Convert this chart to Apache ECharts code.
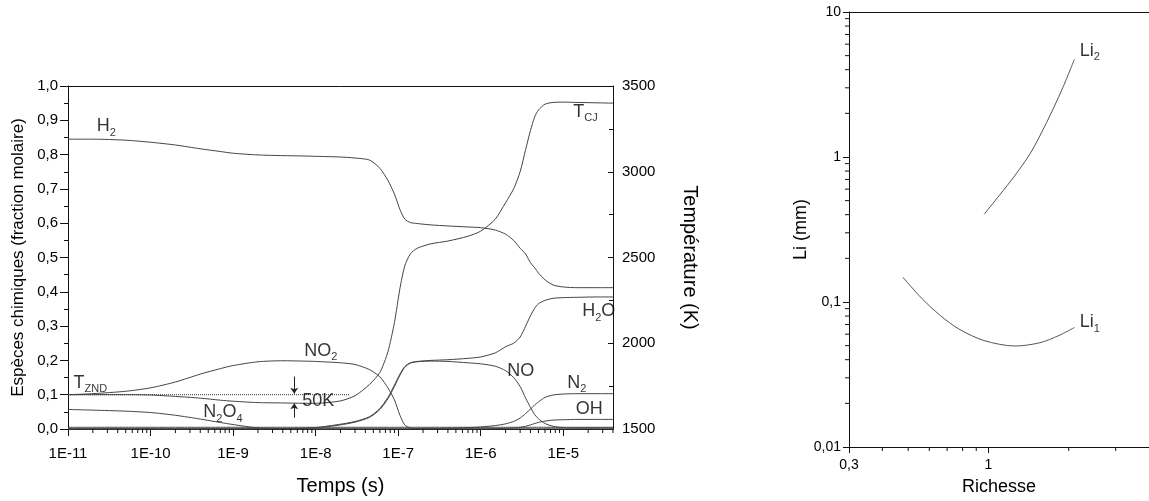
<!DOCTYPE html>
<html><head><meta charset="utf-8">
<script src="https://cdn.jsdelivr.net/npm/echarts@6/dist/echarts.min.js"></script>
<style>html,body{margin:0;padding:0;background:#fff}#c{width:1149px;height:501px}</style>
</head><body><div id="c"></div>
<script>
// ---------- Left chart data (time in seconds, species as molar fraction, temperature in K)
const timeS = [1e-11, 2e-11, 5e-11, 1e-10, 2e-10, 4e-10, 7e-10, 1e-9, 2e-9, 4e-9, 7e-9, 1e-8, 2e-8, 3e-8, 4.5e-8, 6e-8, 7.5e-8, 9e-8, 1.05e-7, 1.2e-7, 1.4e-7, 1.7e-7, 2.5e-7, 4e-7, 7e-7, 1e-6, 1.5e-6, 2e-6, 2.5e-6, 3e-6, 3.5e-6, 4e-6, 4.5e-6, 5e-6, 6e-6, 7.5e-6, 1e-5, 1.5e-5, 2.5e-5, 4e-5];
const h2   = [.845,.845,.842,.836,.828,.817,.809,.804,.799,.797,.796,.795,.793,.79,.784,.76,.725,.685,.64,.612,.602,.599,.595,.592,.589,.587,.58,.568,.55,.527,.51,.485,.47,.455,.435,.42,.414,.412,.412,.412];
const no2  = [.1,.103,.11,.12,.137,.16,.176,.185,.196,.199,.198,.197,.193,.188,.173,.152,.12,.085,.04,.012,.003,.001,0,0,0,0,0,0,0,0,0,0,0,0,0,0,0,0,0,0];
const n2o4 = [.057,.055,.052,.048,.04,.029,.019,.013,.003,.001,0,0,0,0,0,0,0,0,0,0,0,0,0,0,0,0,0,0,0,0,0,0,0,0,0,0,0,0,0,0];
const h2o  = [0,0,0,0,0,0,0,0,.001,.001,.002,.004,.014,.022,.036,.06,.092,.128,.16,.182,.193,.197,.2,.202,.206,.21,.222,.24,.25,.268,.3,.33,.352,.365,.375,.381,.383,.384,.385,.385];
const no   = [0,0,0,0,0,0,0,0,0,.001,.002,.003,.012,.02,.034,.057,.088,.124,.157,.18,.192,.196,.198,.197,.193,.19,.183,.17,.15,.124,.09,.063,.042,.03,.016,.008,.004,.003,.003,.003];
const n2   = [0,0,0,0,0,0,0,0,0,0,0,0,0,0,0,0,0,0,0,0,0,.001,.001,.002,.004,.006,.01,.015,.022,.032,.045,.058,.07,.079,.092,.099,.102,.103,.103,.103];
const oh   = [0,0,0,0,0,0,0,0,0,0,0,0,0,0,0,0,0,0,0,0,0,0,0,0,0,0,.001,.002,.003,.005,.008,.012,.016,.019,.023,.026,.027,.028,.028,.028];
const autres = [.005,.005,.005,.005,.005,.005,.005,.005,.005,.005,.005,.005,.005,.005,.005,.005,.005,.005,.005,.005,.005,.005,.005,.005,.005,.005,.005,.005,.005,.005,.005,.005,.005,.005,.005,.005,.005,.005,.005,.005];
const tempK = [1700,1700,1700,1698,1690,1680,1668,1662,1654,1652,1650,1650,1664,1694,1760,1830,1950,2120,2320,2450,2520,2554,2580,2596,2624,2654,2724,2820,2900,3000,3130,3240,3320,3360,3394,3404,3406,3404,3402,3400];
const tZND = 1700;             // reference temperature (dotted line)
const tZNDLineEnd = 2.6e-8;    // end time of dotted reference line
const deltaTime = 5.5e-9;      // time of the 50 K arrows
const tMin = 1e-11, tMax = 4e-5;

// ---------- Right chart data
const richesseLi1 = [0.478, 0.562, 0.661, 0.776, 0.963, 1.26, 1.56, 1.84, 2.10];
const li1         = [0.148, 0.106, 0.0805, 0.0650, 0.0542, 0.0497, 0.0524, 0.0588, 0.0667];
const richesseLi2 = [0.963, 1.10, 1.26, 1.44, 1.65, 1.89, 2.10];
const li2         = [0.403, 0.545, 0.750, 1.07, 1.72, 2.94, 4.71];

// ---------- Annotations (text, x, y in data units)
const labelsLeft = [
  ['{m|H}{s|2}', 2.2e-11, 0.882],
  ['{m|T}{s|ZND}', 1.15e-11, 0.135],
  ['{m|N}{s|2}{m|O}{s|4}', 4.3e-10, 0.049],
  ['{m|NO}{s|2}', 7.2e-9, 0.228],
  ['{m|50K}', 6.8e-9, 0.081],
  ['{m|NO}', 2.07e-6, 0.17],
  ['{m|N}{s|2}', 1.1e-5, 0.135],
  ['{m|OH}', 1.4e-5, 0.058],
  ['{m|H}{s|2}{m|O}', 1.67e-5, 0.343],
  ['{m|T}{s|CJ}', 1.3e-5, 0.925]
];
const labelsRight = [
  ['{m|Li}{s|2}', 2.19, 5.39],
  ['{m|Li}{s|1}', 2.19, 0.0727]
];

const FONT = 'Liberation Sans, Arial, Helvetica, sans-serif';
const LINE = '#444';
const AX = '#111';
const L = Math.log10;

const toXY = ys => timeS.map((t, i) => [L(t), ys[i]]);
function curve(name, ys, yAxisIndex) {
  return { name, type: 'line', xAxisIndex: 0, yAxisIndex, data: toXY(ys), showSymbol: false, symbol: 'none',
    smooth: 0.25, lineStyle: { color: LINE, width: 1 }, silent: true, z: 3 };
}
function tickRender(dx, dy) {
  return function (params, api) {
    const p = api.coord([api.value(0), api.value(1)]);
    return { type: 'line', shape: { x1: p[0], y1: p[1], x2: p[0] + dx, y2: p[1] + dy },
      style: { stroke: AX, lineWidth: 1 } };
  };
}
const rich = {
  m: { fontSize: 18, lineHeight: 24, color: '#000', fontFamily: FONT },
  s: { fontSize: 11, lineHeight: 11, verticalAlign: 'bottom', color: '#000', fontFamily: FONT }
};
function annot(xi, yi, data) {
  return { type: 'scatter', xAxisIndex: xi, yAxisIndex: yi, symbolSize: 1, silent: true, z: 6,
    itemStyle: { color: 'rgba(0,0,0,0)' }, data,
    label: { show: true, position: 'right', distance: 0, formatter: p => p.data[2], rich } };
}

// minor tick positions (log decades)
const minorLeftX = [];
for (let n = -11; n <= -5; n++) for (let k = 2; k <= 9; k++) {
  const v = L(k) + n; if (v <= L(tMax)) minorLeftX.push([v, 0]);
}
const minorRightX = [0.4, 0.5, 0.6, 0.7, 0.8, 0.9, 2, 3].map(v => [v, 0.01]);
const minorRightY = [];
for (let n = -2; n <= 0; n++) for (let k = 2; k <= 9; k++) minorRightY.push([0.3, k * Math.pow(10, n)]);

const comma = s => String(s).replace('.', ',');
const axisLine = { show: true, onZero: false, lineStyle: { color: AX, width: 1 } };
const lbl = (size, margin) => ({ color: '#000', fontFamily: FONT, fontSize: size, margin });

const chart = echarts.init(document.getElementById('c'), null, { renderer: 'canvas' });
chart.setOption({
  animation: false,
  backgroundColor: '#fff',
  grid: [
    { left: 68, top: 86, width: 545, height: 347 },
    { left: 849, top: 12, right: -21, bottom: 51 }
  ],
  xAxis: [
    { gridIndex: 0, type: 'value', min: L(tMin), max: L(tMax), interval: 1, position: 'bottom',
      axisLine, splitLine: { show: false },
      axisTick: { show: true, length: 7, lineStyle: { color: AX } },
      axisLabel: Object.assign(lbl(15, 17), { formatter: v => '1E' + Math.round(v), showMaxLabel: false }),
      name: 'Temps (s)', nameLocation: 'middle', nameGap: 47,
      nameTextStyle: { fontFamily: FONT, fontSize: 20, color: '#000' } },
    { gridIndex: 0, type: 'value', min: L(tMin), max: L(tMax), position: 'top',
      axisLine, axisTick: { show: false }, axisLabel: { show: false }, splitLine: { show: false } },
    { gridIndex: 1, type: 'log', logBase: 10, min: 0.3, max: 4, position: 'bottom',
      axisLine, splitLine: { show: false },
      axisTick: { show: true, length: 6, lineStyle: { color: AX } },
      axisLabel: Object.assign(lbl(14, 11), { formatter: v => comma(Number(v.toPrecision(6))), showMaxLabel: false }),
      name: 'Richesse', nameLocation: 'middle', nameGap: 31,
      nameTextStyle: { fontFamily: FONT, fontSize: 18, color: '#000' } },
    { gridIndex: 1, type: 'log', logBase: 10, min: 0.3, max: 4, position: 'top',
      axisLine, axisTick: { show: false }, axisLabel: { show: false }, splitLine: { show: false } }
  ],
  yAxis: [
    { gridIndex: 0, type: 'value', min: 0, max: 1, interval: 0.1, position: 'left',
      axisLine, splitLine: { show: false },
      axisTick: { show: true, length: 8, lineStyle: { color: AX } },
      minorTick: { show: true, splitNumber: 2, length: 4, lineStyle: { color: AX } },
      axisLabel: Object.assign(lbl(15, 10), { formatter: v => v.toFixed(1).replace('.', ',') }),
      name: 'Espèces chimiques (fraction molaire)', nameLocation: 'middle', nameGap: 41,
      nameTextStyle: { fontFamily: FONT, fontSize: 17, color: '#000' } },
    { gridIndex: 0, type: 'value', min: 1500, max: 3500, interval: 500, position: 'right',
      axisLine, splitLine: { show: false },
      axisTick: { show: true, inside: true, length: 5, lineStyle: { color: AX } },
      minorTick: { show: true, splitNumber: 2, length: 4, lineStyle: { color: AX } },
      axisLabel: Object.assign(lbl(15, 9), { formatter: v => String(v) }),
      name: 'Température (K)', nameLocation: 'middle', nameGap: 67, nameRotate: -90,
      nameTextStyle: { fontFamily: FONT, fontSize: 20, color: '#000' } },
    { gridIndex: 1, type: 'log', logBase: 10, min: 0.01, max: 10, position: 'left',
      axisLine, splitLine: { show: false },
      axisTick: { show: true, length: 6, lineStyle: { color: AX } },
      axisLabel: Object.assign(lbl(14, 8), { formatter: v => comma(Number(v.toPrecision(6))) }),
      name: 'Li (mm)', nameLocation: 'middle', nameGap: 38,
      nameTextStyle: { fontFamily: FONT, fontSize: 18, color: '#000' } }
  ],
  series: [
    curve('H2', h2, 0),
    curve('NO2', no2, 0),
    curve('N2O4', n2o4, 0),
    curve('H2O', h2o, 0),
    curve('NO', no, 0),
    curve('N2', n2, 0),
    curve('OH', oh, 0),
    curve('autres', autres, 0),
    curve('T', tempK, 1),
    { name: 'TZND ref', type: 'line', xAxisIndex: 0, yAxisIndex: 1, showSymbol: false, symbol: 'none', silent: true,
      data: [[L(tMin), tZND], [L(tZNDLineEnd), tZND]],
      lineStyle: { color: '#333', width: 1, type: [1, 1] } },
    { type: 'lines', coordinateSystem: 'cartesian2d', xAxisIndex: 0, yAxisIndex: 1, silent: true,
      symbol: ['none', 'arrow'], symbolSize: 6, lineStyle: { color: '#222', width: 1, opacity: 1 },
      data: [ { coords: [[L(deltaTime), tZND + 106], [L(deltaTime), tZND + 6]] },
              { coords: [[L(deltaTime), tZND - 134], [L(deltaTime), tZND - 50]] } ] },
    { type: 'custom', xAxisIndex: 0, yAxisIndex: 0, silent: true, clip: false, z: 5,
      data: minorLeftX, renderItem: tickRender(0, 4) },
    annot(0, 0, labelsLeft.map(a => [L(a[1]), a[2], a[0]])),
    // right chart
    { name: 'Li1', type: 'line', xAxisIndex: 2, yAxisIndex: 2, showSymbol: false, symbol: 'none', smooth: 0.3, silent: true,
      data: richesseLi1.map((r, i) => [r, li1[i]]), lineStyle: { color: '#555', width: 1 } },
    { name: 'Li2', type: 'line', xAxisIndex: 2, yAxisIndex: 2, showSymbol: false, symbol: 'none', smooth: 0.3, silent: true,
      data: richesseLi2.map((r, i) => [r, li2[i]]), lineStyle: { color: '#555', width: 1 } },
    { type: 'custom', xAxisIndex: 2, yAxisIndex: 2, silent: true, clip: false, z: 5,
      data: minorRightX, renderItem: tickRender(0, 4) },
    { type: 'custom', xAxisIndex: 2, yAxisIndex: 2, silent: true, clip: false, z: 5,
      data: minorRightY, renderItem: tickRender(-4, 0) },
    annot(2, 2, labelsRight.map(a => [a[1], a[2], a[0]]))
  ]
});
</script></body></html>
